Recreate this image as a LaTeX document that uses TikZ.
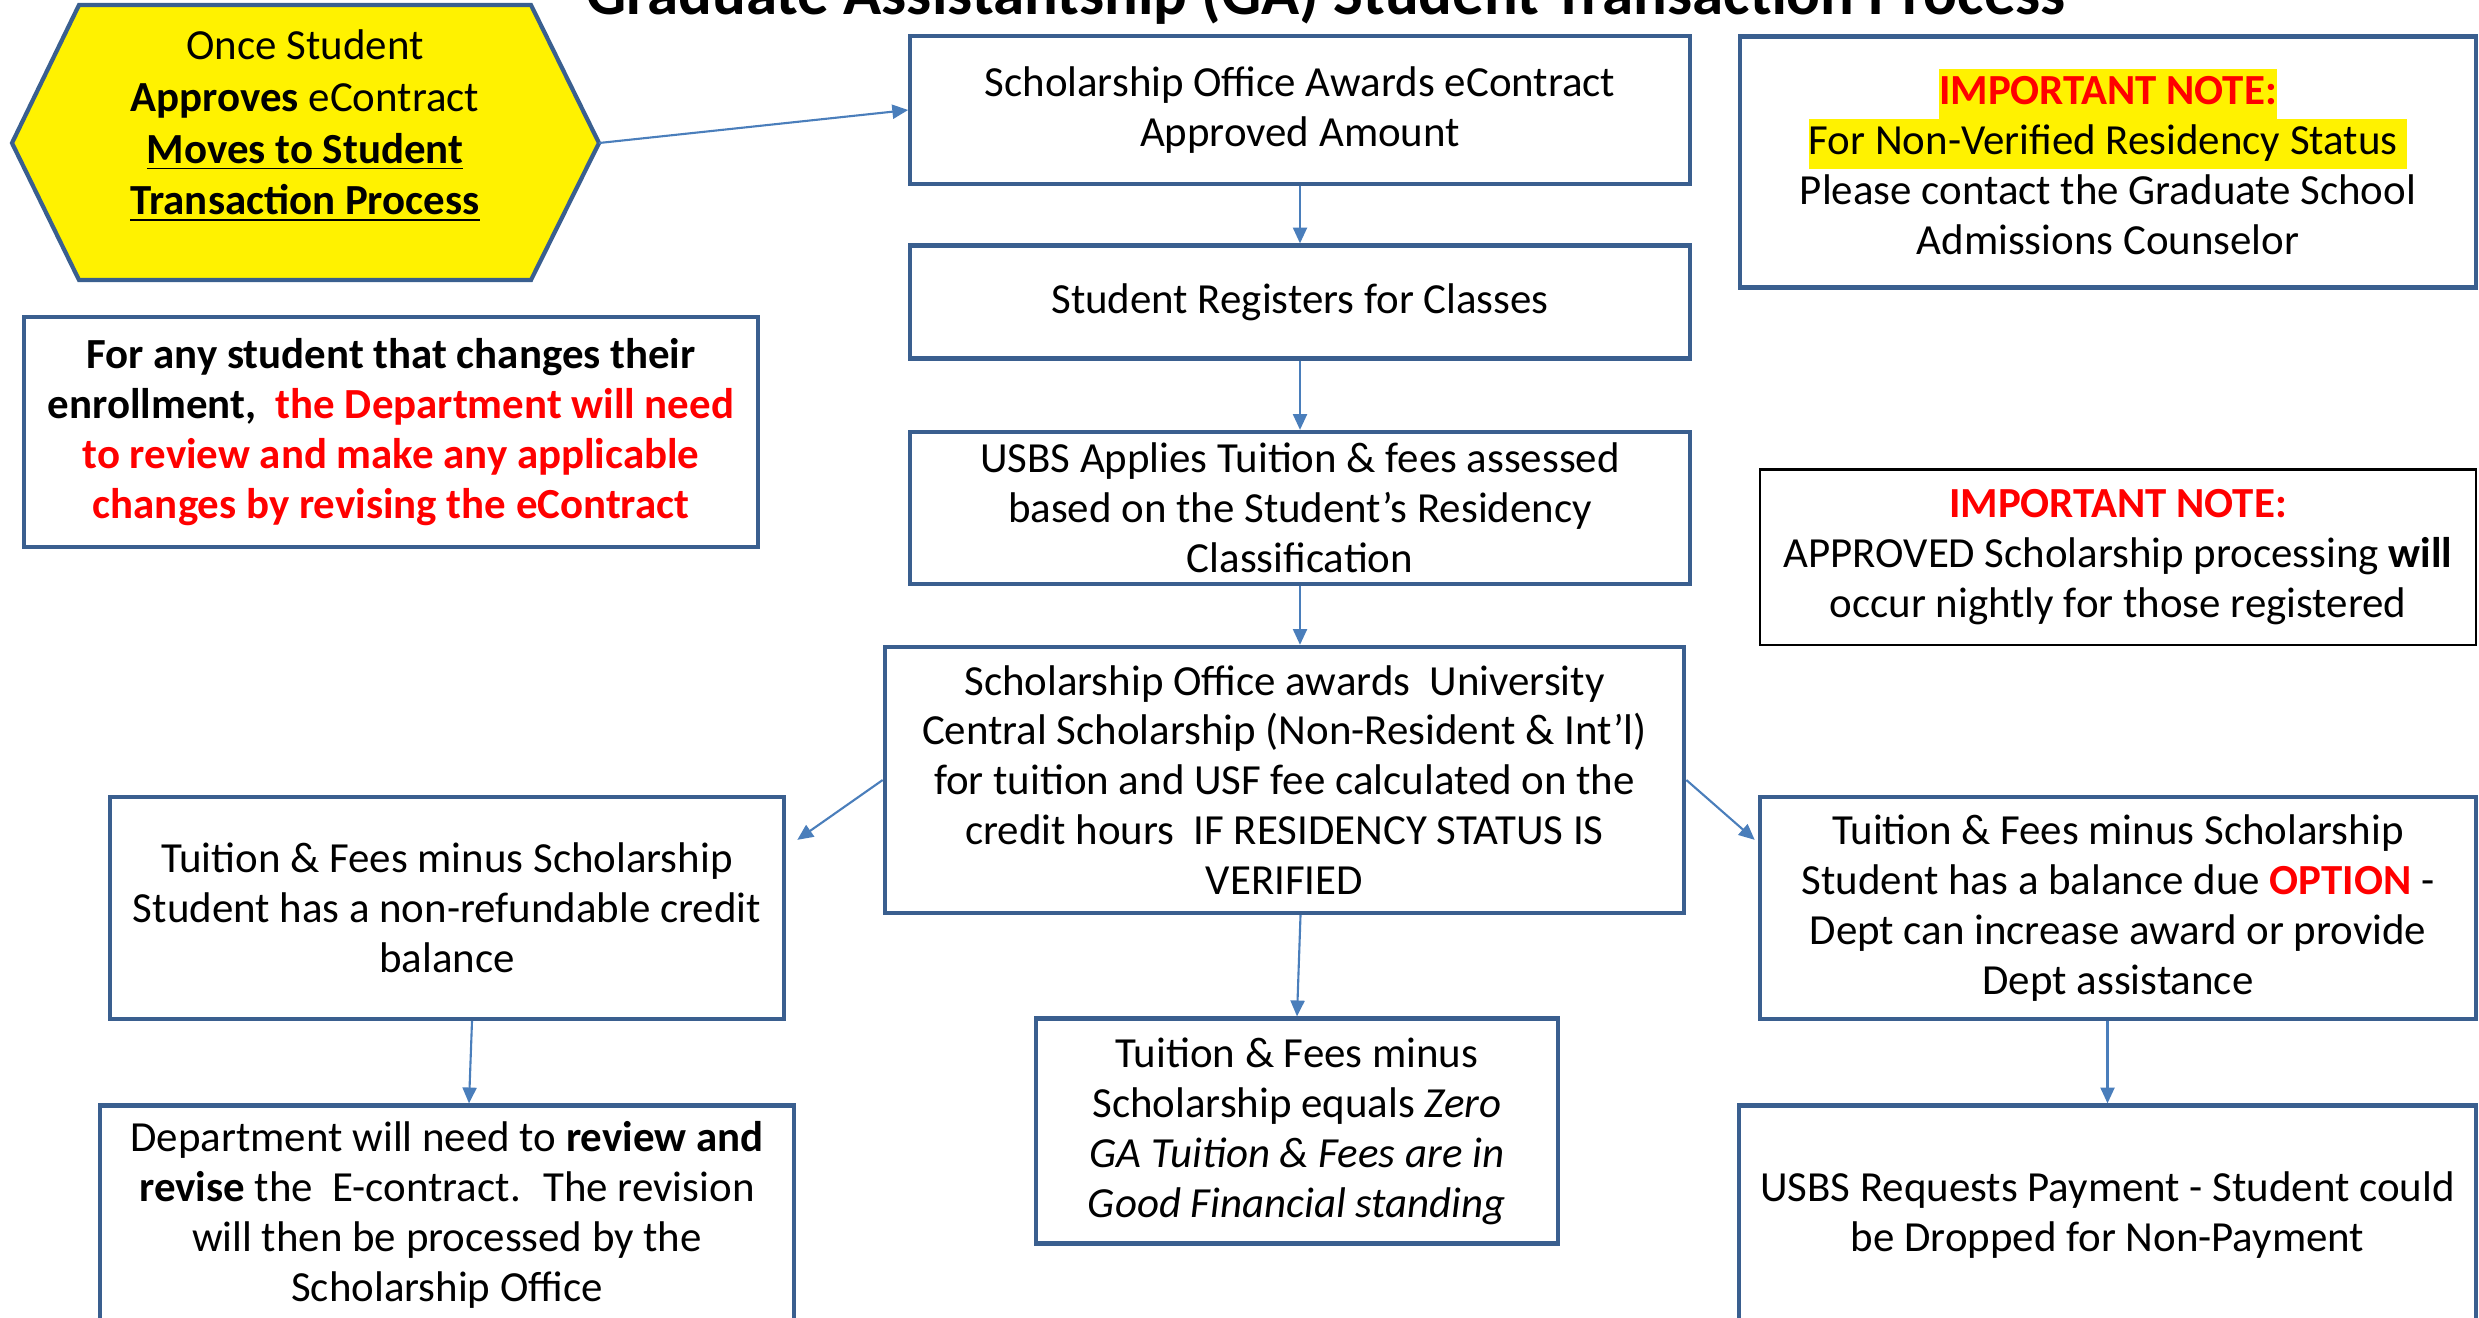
\documentclass[tikz,border=0pt]{standalone}
\usepackage{fontspec}
\setmainfont{Carlito}
\usetikzlibrary{arrows.meta}

\definecolor{boxblue}{HTML}{3A5F8F}
\definecolor{arrowblue}{HTML}{4A7EBB}
\definecolor{notered}{HTML}{FF0000}
\newcommand{\hlbox}[1]{{\setlength{\fboxsep}{0pt}\colorbox{yellow}{\strut #1}}}
\newcommand{\redb}[1]{\textcolor{notered}{\textbf{#1}}}

\tikzset{
  stepbox/.style={draw=boxblue, line width=1.2pt, fill=white, align=center,
    inner sep=0pt, font=\fontsize{12.2}{14.2}\selectfont},
  notebox/.style={draw=black, line width=0.6pt, fill=white, align=center,
    inner sep=0pt, font=\fontsize{12.2}{14.2}\selectfont},
  flow/.style={draw=arrowblue, line width=0.6pt, -{Triangle[length=4.5pt,width=4pt]}},
}

\begin{document}
\begin{tikzpicture}[x=0.01cm, y=-0.01cm]
        \useasboundingbox (0,0) rectangle (2479,1317);
        \clip (0,0) rectangle (2479,1317);

        % Title
        \node[anchor=base, font=\fontsize{17.9}{21}\selectfont\bfseries] (title) at (1326,14)
            {Graduate Assistantship (GA) Student Transaction Process};

        % Start hexagon
        \filldraw[fill=yellow, draw=boxblue, line width=1.2pt]
            (12,143) -- (79,5) -- (531,5) -- (599,143) -- (531,280) -- (79,280) -- cycle;
        \coordinate (hexE) at (599,143);
        \node[align=center, font=\fontsize{12.2}{14.7}\selectfont] (hex) at (305,126)
            {Once Student\\ \textbf{Approves} eContract\\ \underline{\textbf{Moves to Student}}\\ \underline{\textbf{Transaction Process}}};

        % Main column
        \node[stepbox, minimum width=7.79cm, minimum height=1.48cm] (award) at (1300,110)
            {Scholarship Office Awards eContract\\ Approved Amount};
        \node[stepbox, minimum width=7.79cm, minimum height=1.13cm] (register) at (1300,302)
            {Student Registers for Classes};
        \node[stepbox, minimum width=7.79cm, minimum height=1.52cm] (tuition) at (1300,508)
            {USBS Applies Tuition \& fees assessed\\ based on the Student’s Residency\\ Classification};
        \node[stepbox, minimum width=7.99cm, minimum height=2.66cm] (central) at (1284.5,780)
            {Scholarship Office awards \ University\\ Central Scholarship (Non-Resident \& Int’l)\\
             for tuition and USF fee calculated on the\\ credit hours \ IF RESIDENCY STATUS IS\\ VERIFIED};

        % Notes
        \node[stepbox, minimum width=7.36cm, minimum height=2.51cm] (nonres) at (2108,162)
            {\hlbox{\redb{IMPORTANT NOTE:}}\\ \hlbox{For Non-Verified Residency Status\ }\\
             Please contact the Graduate School\\ Admissions Counselor};
        \node[stepbox, minimum width=7.34cm, minimum height=2.30cm] (enroll) at (391,432)
            {\textbf{For any student that changes their}\\
             \textbf{enrollment, \ }\redb{the Department will need}\\
             \redb{to review and make any applicable}\\ \redb{changes by revising the eContract}};
        \node[notebox, minimum width=7.16cm, minimum height=1.75cm] (nightly) at (2118,557)
            {\redb{IMPORTANT NOTE:}\\ APPROVED Scholarship processing \textbf{will}\\ occur nightly for those registered};

        % Outcomes
        \node[stepbox, minimum width=6.74cm, minimum height=2.22cm] (credit) at (447,908)
            {Tuition \& Fees minus Scholarship\\ Student has a non-refundable credit\\ balance};
        \node[stepbox, minimum width=5.22cm, minimum height=2.25cm] (zero) at (1297,1131)
            {Tuition \& Fees minus\\ Scholarship equals \textit{Zero}\\
             \textit{GA Tuition \& Fees are in}\\ \textit{Good Financial standing}};
        \node[stepbox, minimum width=7.16cm, minimum height=2.22cm] (due) at (2118,908)
            {Tuition \& Fees minus Scholarship\\ Student has a balance due \redb{OPTION} -\\
             Dept can increase award or provide\\ Dept assistance};
        \node[stepbox, minimum width=6.94cm, minimum height=2.19cm] (revise) at (447,1215)
            {Department will need to \textbf{review and}\\ \textbf{revise} the \ E-contract. \ The revision\\
             will then be processed by the\\ Scholarship Office};
        \node[stepbox, minimum width=7.37cm, minimum height=2.19cm] (payment) at (2107.5,1215)
            {USBS Requests Payment - Student could\\ be Dropped for Non-Payment};

        % Arrows
        \draw[flow] (hexE) -- (award.west);
        \draw[flow] (award.south) -- (register.north);
        \draw[flow] (register.south) -- (tuition.north);
        \draw[flow] (tuition.south) -- (tuition.south |- central.north);
        \draw[flow] ([shift={(16,0)}]central.south) -- (zero.north);
        \draw[flow] (central.west) -- ([shift={(11,45)}]credit.north east);
        \draw[flow] (central.east) -- ([shift={(-3,45)}]due.north west);
        \draw[flow] ([shift={(25,0)}]credit.south) -- ([shift={(22,0)}]revise.north);
        \draw[flow] (payment.north |- due.south) -- (payment.north);
    \end{tikzpicture}
\end{document}
